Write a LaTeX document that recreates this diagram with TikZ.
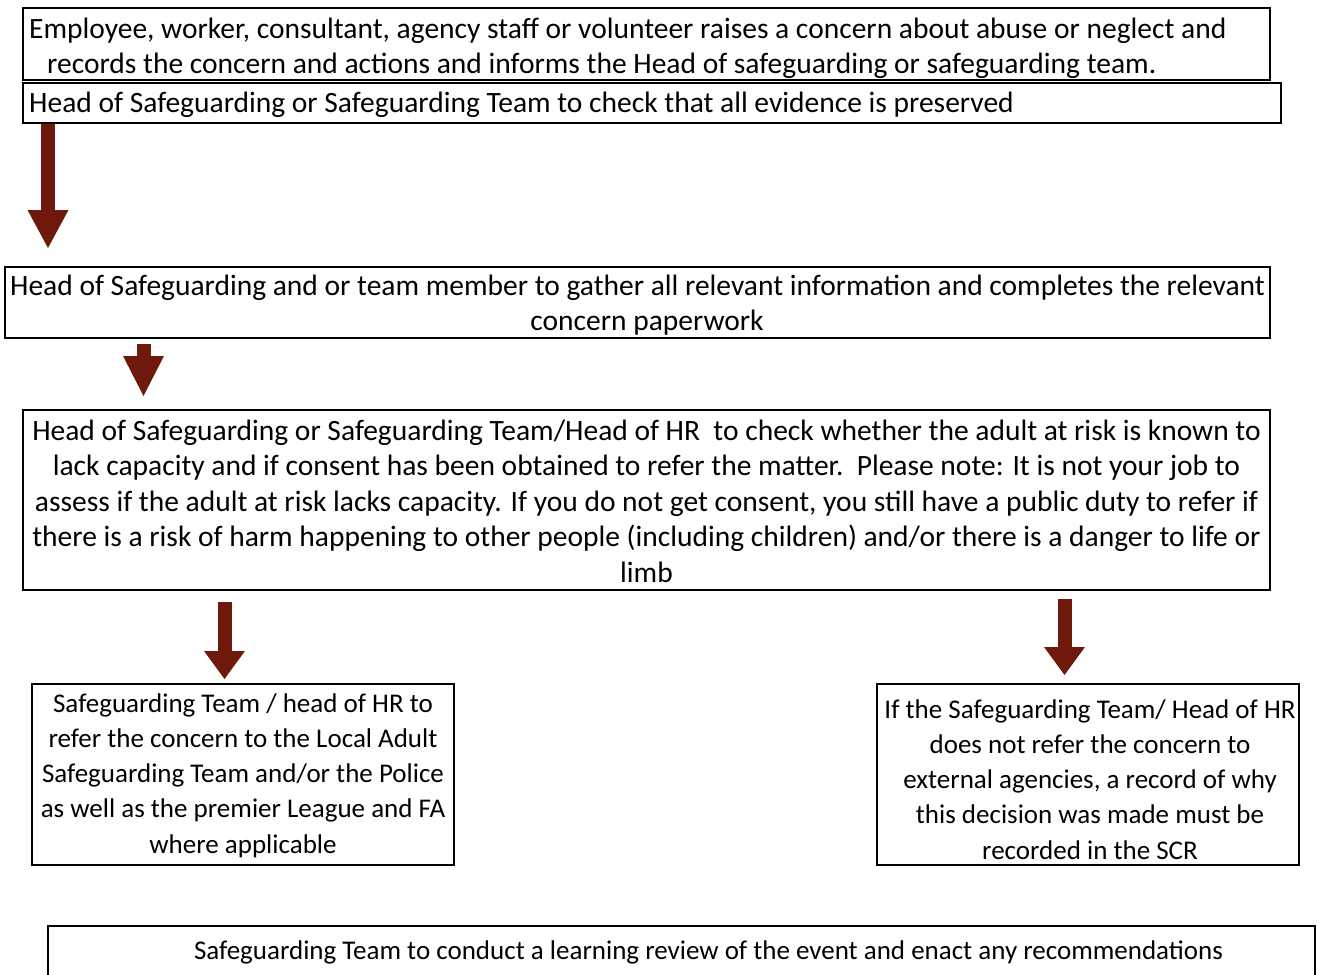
\documentclass[tikz,border=0pt]{standalone}
\usepackage{fontspec}
\setmainfont{Carlito}
\usetikzlibrary{arrows.meta}
\definecolor{arr}{HTML}{6E190C}
\begin{document}
\begin{tikzpicture}[x=1pt,y=-1pt,
  box/.style={draw=black,line width=2pt,inner sep=0pt},
  big/.style={inner sep=0pt,font=\fontsize{29.5}{35.4}\selectfont},
  small/.style={inner sep=0pt,font=\fontsize{27}{35.2}\selectfont},
  fat/.style={draw=arr,line width=14pt,
    -{Triangle[length=#1,width=41pt,line width=0pt]}},
  fat/.default=38pt]
\useasboundingbox (0,0) rectangle (1319,974);
\clip (0,0) rectangle (1319,974);
% boxes
\node[box,minimum width=1247pt,minimum height=72pt] (b1) at (646.5,44) {};
\node[box,minimum width=1258pt,minimum height=40pt] (b2) at (652,103) {};
\node[box,minimum width=1265pt,minimum height=71pt] (b3) at (637.5,302.5) {};
\node[box,minimum width=1247pt,minimum height=180pt] (b4) at (646.5,500) {};
\node[box,minimum width=422pt,minimum height=181pt] (b5) at (243,774.5) {};
\node[box,minimum width=422pt,minimum height=181pt] (b6) at (1088,774.5) {};
\draw[line width=2pt] (48,1000) |- (1315,926) -- (1315,1000);
% texts (base anchor = baseline of the last line)
\node[big,anchor=base west,align=left] (t1) at (29,74)
  {Employee, worker, consultant, agency staff or volunteer raises a concern about abuse or neglect and\\
   \hspace*{18pt}records the concern and actions and informs the Head of safeguarding or safeguarding team.};
\node[big,anchor=base west] (t2) at (29,112)
  {Head of Safeguarding or Safeguarding Team to check that all evidence is preserved};
\node[big,anchor=base,align=center] (t3) at (637.5,330.5)
  {Head of Safeguarding and or team member to gather all relevant information and completes the relevant\\
   \hspace*{19pt}concern paperwork};
\node[big,anchor=base,align=center] (t4) at (646.5,582)
  {Head of Safeguarding or Safeguarding Team/Head of HR\ \ to check whether the adult at risk is known to\\
   lack capacity and if consent has been obtained to refer the matter.\ \ Please note: It is not your job to\\
   assess if the adult at risk lacks capacity. If you do not get consent, you still have a public duty to refer if\\
   there is a risk of harm happening to other people (including children) and/or there is a danger to life or\\
   limb};
\node[small,anchor=base,align=center] (t5) at (243,853)
  {Safeguarding Team / head of HR to\\
   refer the concern to the Local Adult\\
   Safeguarding Team and/or the Police\\
   as well as the premier League and FA\\
   where applicable};
\node[small,anchor=base,align=center] (t6) at (1090,859)
  {If the Safeguarding Team/ Head of HR\\
   does not refer the concern to\\
   external agencies, a record of why\\
   this decision was made must be\\
   recorded in the SCR};
\node[small,anchor=base] (t7) at (708.5,959)
  {Safeguarding Team to conduct a learning review of the event and enact any recommendations};
% arrows
\coordinate (p1) at (48,248);
\coordinate (p2) at (143.5,396);
\coordinate (p3) at (224.5,679);
\coordinate (p4) at (1064.5,675);
\draw[fat=38pt] (b2.south -| p1) -- (p1);
\draw[fat=40pt] ([yshift=-5pt]b3.south -| p2) -- (p2);
\draw[fat=28pt] ([yshift=-11pt]b4.south -| p3) -- (p3);
\draw[fat=28pt] ([yshift=-8pt]b4.south -| p4) -- (p4);
\end{tikzpicture}
\end{document}
